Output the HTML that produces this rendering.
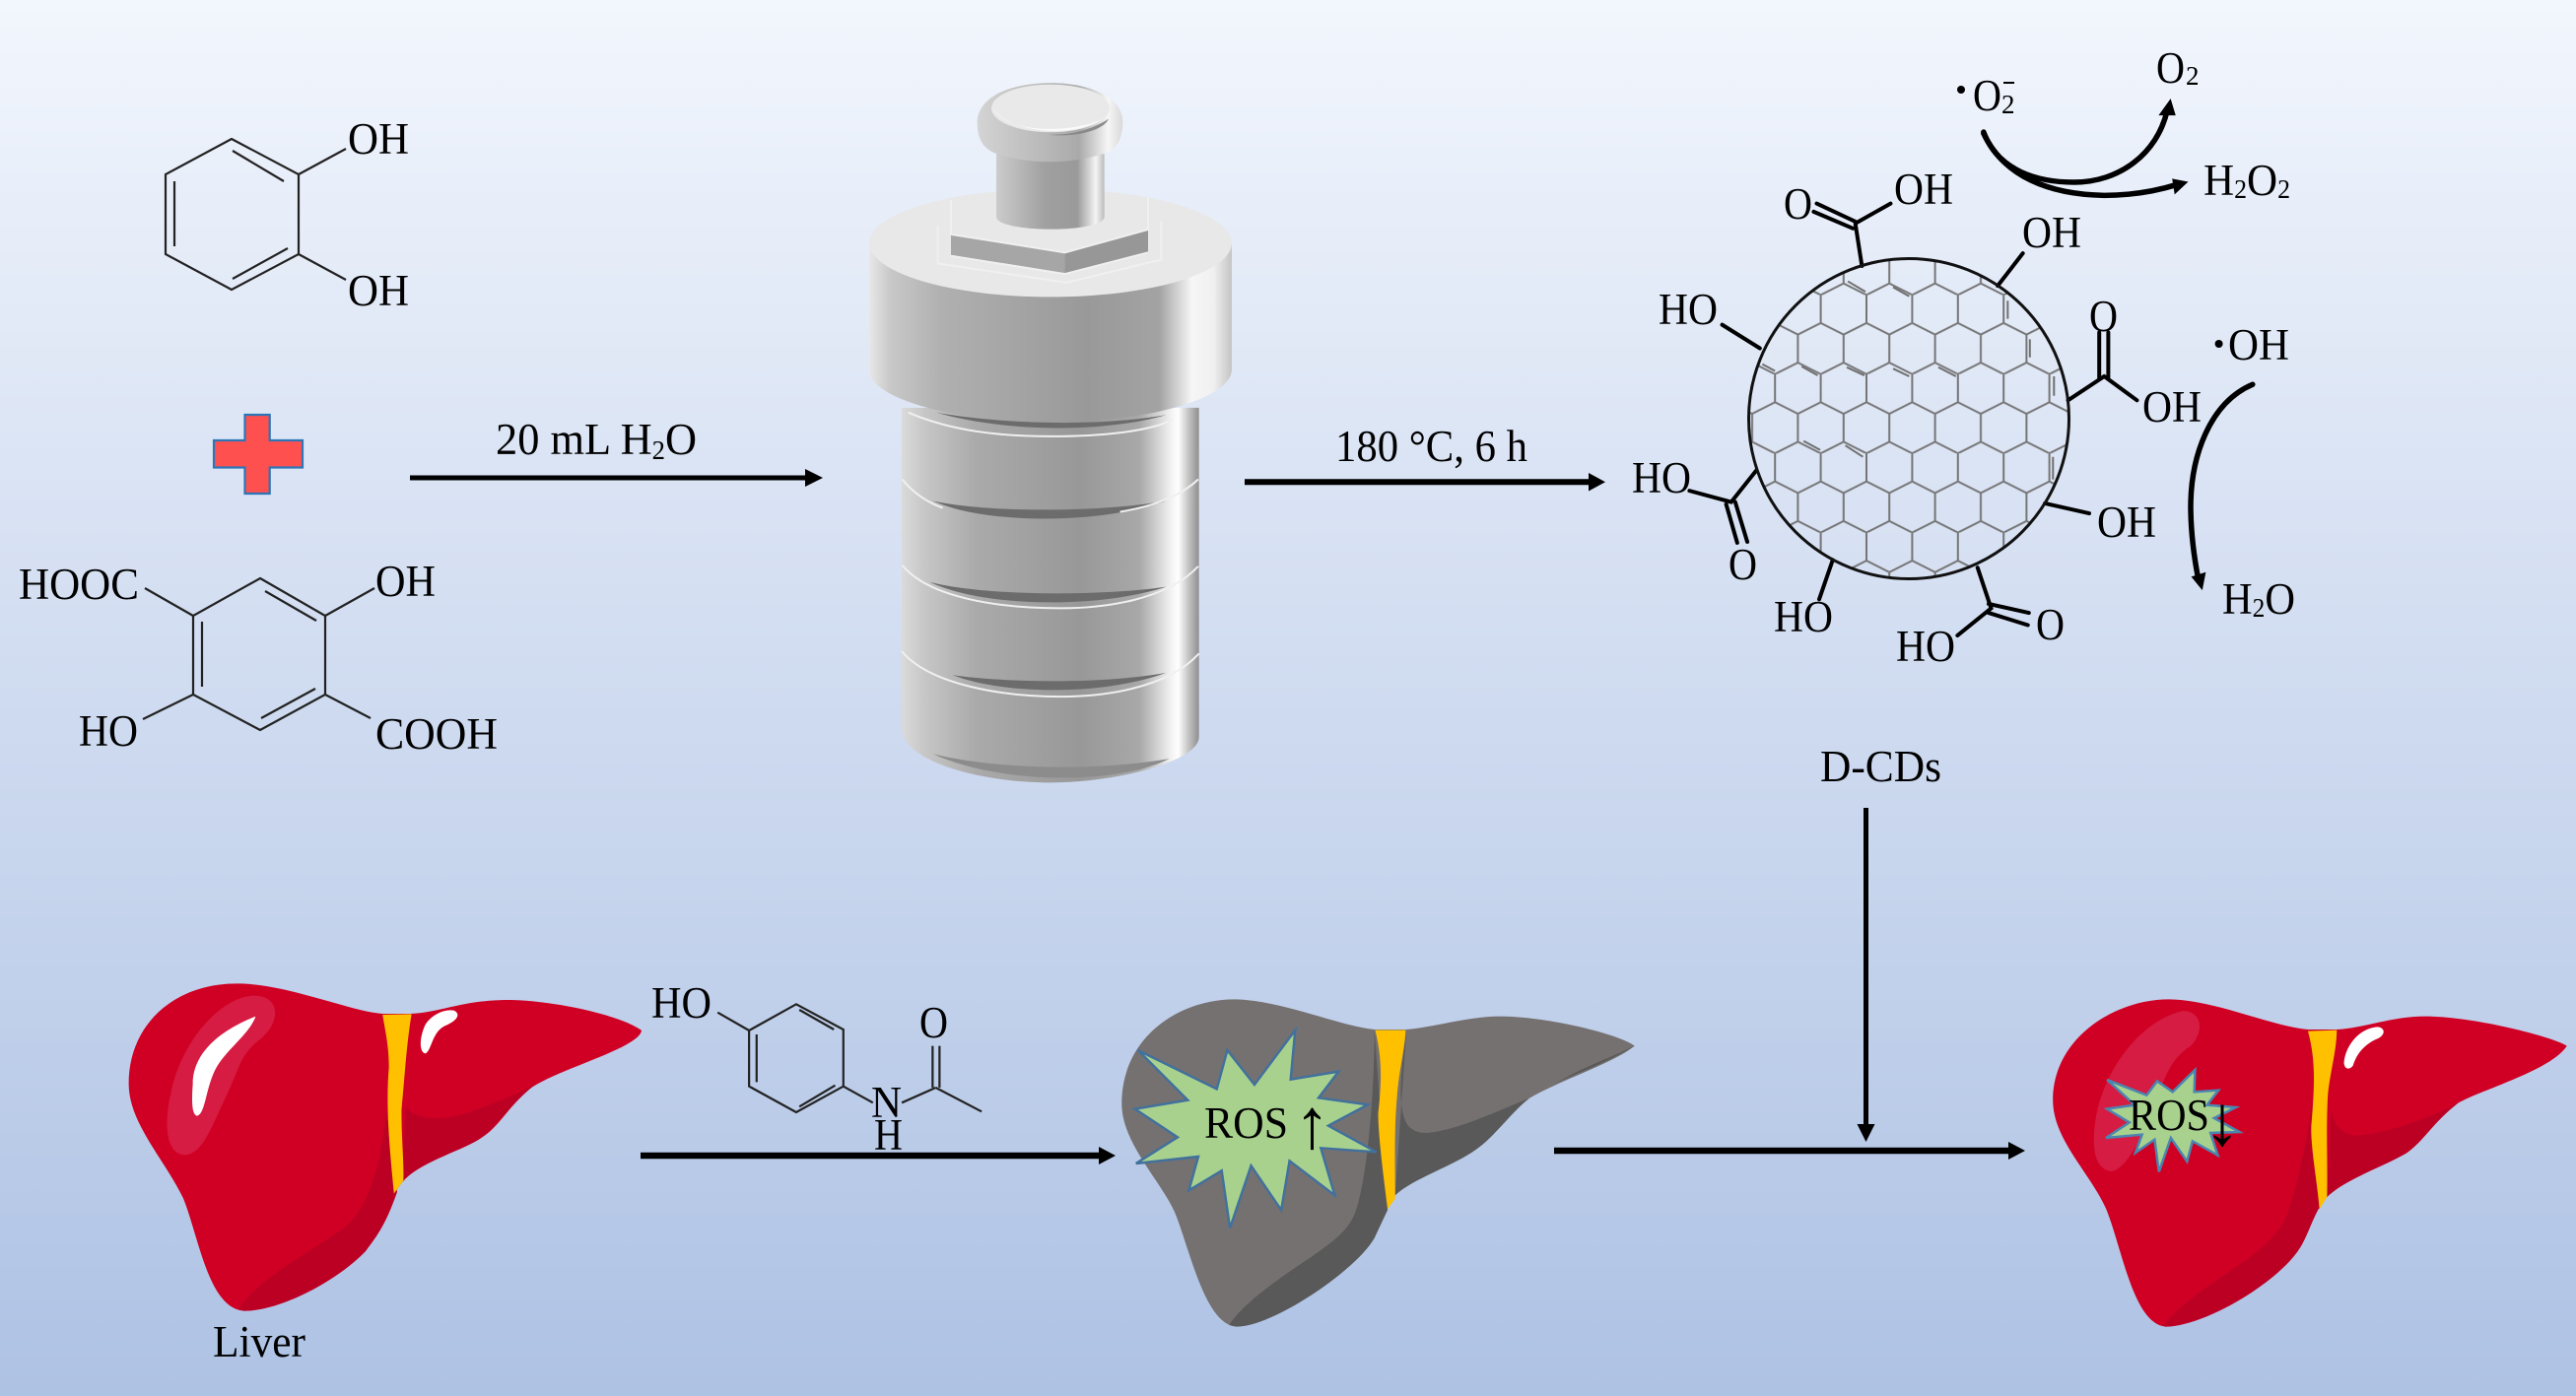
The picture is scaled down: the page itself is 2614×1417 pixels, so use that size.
<!DOCTYPE html>
<html><head><meta charset="utf-8"><style>
html,body{margin:0;padding:0;background:#c8d6ee}
svg{display:block}
text{font-family:"Liberation Serif","Noto Serif CJK SC",serif;fill:#000;font-size:45px}
.b{fill:none;stroke:#222;stroke-width:2.2;vector-effect:non-scaling-stroke}
.k{fill:none;stroke:#000;stroke-width:4;vector-effect:non-scaling-stroke;stroke-linecap:round}
.g{fill:none;stroke:#707070;stroke-width:2;vector-effect:non-scaling-stroke}
.c{fill:none;stroke:#000;stroke-width:5.5;vector-effect:non-scaling-stroke;stroke-linecap:round}
.w{fill:none;stroke:#f0f0f0;stroke-width:2;vector-effect:non-scaling-stroke}
.s{font-size:27px}
</style></head><body>
<svg width="2614" height="1417" viewBox="0 0 2614 1417" xmlns="http://www.w3.org/2000/svg">
<defs>
<linearGradient id="bg" x1="0" y1="0" x2="0" y2="1"><stop offset="0" stop-color="#f2f6fd"/><stop offset=".5" stop-color="#cfdbf0"/><stop offset="1" stop-color="#aec2e4"/></linearGradient>
<linearGradient id="cap" x1="0" y1="0" x2="1" y2="0"><stop offset="0" stop-color="#e8e8e8"/><stop offset=".06" stop-color="#c8c8c8"/><stop offset=".2" stop-color="#b0b0b0"/><stop offset=".6" stop-color="#999"/><stop offset=".8" stop-color="#a3a3a3"/><stop offset=".89" stop-color="#f6f6f6"/><stop offset=".95" stop-color="#f0f0f0"/><stop offset="1" stop-color="#c4c4c4"/></linearGradient>
<linearGradient id="body" x1="0" y1="0" x2="1" y2="0"><stop offset="0" stop-color="#dadada"/><stop offset=".08" stop-color="#c6c6c6"/><stop offset=".25" stop-color="#aaa"/><stop offset=".6" stop-color="#989898"/><stop offset=".8" stop-color="#a8a8a8"/><stop offset=".9" stop-color="#eee"/><stop offset=".93" stop-color="#fff"/><stop offset=".96" stop-color="#ccc"/><stop offset="1" stop-color="#8e8e8e"/></linearGradient>
<linearGradient id="stem" x1="0" y1="0" x2="1" y2="0"><stop offset="0" stop-color="#ccc"/><stop offset=".45" stop-color="#a0a0a0"/><stop offset=".75" stop-color="#9a9a9a"/><stop offset=".92" stop-color="#f4f4f4"/><stop offset="1" stop-color="#bbb"/></linearGradient>
<linearGradient id="knob" x1="0" y1="0" x2="1" y2="0"><stop offset="0" stop-color="#d4d4d4"/><stop offset=".4" stop-color="#bcbcbc"/><stop offset=".7" stop-color="#aaa"/><stop offset=".9" stop-color="#f6f6f6"/><stop offset="1" stop-color="#d8d8d8"/></linearGradient>
<pattern id="hex" patternUnits="userSpaceOnUse" x="1847.6" y="299.4" width="46.4" height="80.4">
<path d="M0,0V28.5L23.2,40.2L46.4,28.5V0M23.2,40.2V68.7L0,80.4M23.2,68.7L46.4,80.4" fill="none" stroke="#757575" stroke-width="2"/>
</pattern>
</defs>
<rect width="2614" height="1417" fill="url(#bg)"/>

<!-- catechol -->
<path class="b" d="M235,141L303,177V258L235,294L168,258V177Z"/>
<path class="b" d="M236,153L288,184M177,184V250M236,283L292,252M303,177L351,151M303,258L351,284"/>
<text x="353" y="156" textLength="62" lengthAdjust="spacingAndGlyphs">OH</text>
<text x="353" y="310" textLength="62" lengthAdjust="spacingAndGlyphs">OH</text>
<!-- plus -->
<path d="M248.500,421H273.700V447H307V474.500H273.700V501H248.500V474.500H217V447H248.500Z" fill="#ff5050" stroke="#2e75b6" stroke-width="2.200"/>
<!-- acid -->
<path class="b" d="M264,587L330,625V705L264,741L196,705V625Z"/>
<path class="b" d="M269,600L321,630M205,631V697M265,729L320,699M147,597L196,625M330,625L380,597M196,705L145,730M330,705L376,729"/>
<text x="19" y="608" textLength="122" lengthAdjust="spacingAndGlyphs">HOOC</text>
<text x="381" y="605" textLength="61" lengthAdjust="spacingAndGlyphs">OH</text>
<text x="80" y="757" textLength="60" lengthAdjust="spacingAndGlyphs">HO</text>
<text x="381" y="760" textLength="124" lengthAdjust="spacingAndGlyphs">COOH</text>

<!-- arrow 1 -->
<path d="M416,482.500H817V476L835,485L817,494V487.500H416Z"/>
<text x="503" y="461" textLength="204" lengthAdjust="spacingAndGlyphs">20 mL H<tspan class="s" dy="5">2</tspan><tspan dy="-5">O</tspan></text>

<!-- reactor -->
<g transform="translate(850,60) scale(.3333,.4847)">
<path d="M195,1400V730H1100V1420C1100,1470 850,1515 650,1515C430,1515 195,1470 195,1400Z" fill="url(#body)"/>
<path d="M290,1455C500,1490 800,1490 1010,1465C850,1520 500,1520 290,1455Z" fill="#8c8c8c"/>
<path d="M350,1290C500,1305 800,1310 1000,1285C800,1335 500,1330 350,1290Z" fill="#6c6c6c"/>
<path class="w" d="M195,1240C280,1310 500,1335 680,1335C800,1335 1000,1320 1100,1245"/>
<path d="M280,1095C450,1125 800,1125 1000,1105C800,1150 450,1150 280,1095Z" fill="#6c6c6c"/>
<path class="w" d="M197,1060C280,1130 500,1150 680,1150C800,1150 1000,1135 1098,1062"/>
<path d="M290,925C450,950 800,950 1000,925C800,975 450,975 290,925Z" fill="#6c6c6c"/>
<path class="w" d="M197,880C230,910 280,930 320,940M860,948C950,938 1040,918 1098,880"/>
<path d="M300,740C500,765 800,770 1000,745C800,785 500,780 300,740Z" fill="#6c6c6c"/>
<path class="w" d="M215,740C350,780 500,790 650,790C800,790 950,780 1020,755"/>
<path d="M95,385V650C95,710 350,760 650,760C950,760 1200,710 1200,650V385Z" fill="url(#cap)"/>
<ellipse cx="648" cy="385" rx="552" ry="113" fill="#e8e8e8"/>
<path d="M345,367L692,405L945,357V405L692,450L345,412Z" fill="#a6a6a6"/>
<path d="M692,405L945,357V405L692,450Z" fill="#979797"/>
<path d="M345,295V367L692,405L945,357V290M305,348V428L697,468L985,420V340M345,412L692,450L945,405" class="w"/>
<path d="M483,190V330C483,365 812,365 812,330V190Z" fill="url(#stem)"/>
<path d="M425,130C430,80 520,50 650,50C780,50 868,85 868,130C868,180 835,195 800,200C700,220 590,220 490,200C450,190 425,175 425,130Z" fill="url(#knob)"/>
<ellipse cx="648" cy="103" rx="180" ry="50" fill="#e9e9e9"/>
<path d="M470,100C520,160 760,170 830,110C800,150 520,170 470,100Z" fill="#fbfbfb"/>
<path d="M640,158C700,160 770,150 825,125C810,150 720,165 640,158Z" fill="#8a8a8a"/>
</g>

<!-- arrow 2 -->
<path d="M1263,486.300H1612V480L1629,489.300L1612,498.500V492.300H1263Z"/>
<text x="1355" y="468" textLength="195" lengthAdjust="spacingAndGlyphs">180 °C, 6 h</text>

<!-- CD -->
<circle cx="1937" cy="425" r="162" fill="url(#hex)"/>
<g transform="translate(1620,0) scale(.5102,.4591)">
<path class="g" d="M500,622L535,645M590,635L622,655M818,665V705M862,750V790M910,832V875M330,805L355,820M408,810L440,830M498,812L533,830M590,815L622,832M680,812L715,832M412,975L445,995M495,985L530,1010M908,1010V1060"/>
<path class="k" d="M528,588L515,495M515,490L438,450M510,505L432,468M518,492L585,450M798,632L848,560M938,885L1010,832M1000,835V735M1018,835V735M1010,832L1075,885M325,770L250,718M892,1113L980,1135M318,1040L268,1110L185,1085M258,1115L280,1200M276,1110L300,1198M470,1238L443,1325M758,1255L785,1345L718,1405M780,1335L860,1355M780,1355L858,1382"/>
<path class="c" d="M770,292C800,380 880,403 950,403C1040,403 1115,340 1135,245"/>
<path d="M1142,218L1118,255L1152,255Z"/>
<path class="c" d="M770,295C810,390 900,430 1010,432C1070,432 1120,420 1155,408"/>
<path d="M1177,402L1145,395L1150,430Z"/>
<path class="c" d="M1305,850C1220,890 1180,1010 1182,1130C1183,1190 1190,1240 1197,1280"/>
<path d="M1205,1305L1183,1275L1212,1265Z"/>
</g>
<circle cx="1937" cy="425" r="162.500" fill="none" stroke="#111" stroke-width="3"/>
<text x="1810" y="222" textLength="29" lengthAdjust="spacingAndGlyphs">O</text>
<text x="1922" y="207" textLength="60" lengthAdjust="spacingAndGlyphs">OH</text>
<text x="2052" y="251" textLength="60" lengthAdjust="spacingAndGlyphs">OH</text>
<text x="1683" y="329" textLength="60" lengthAdjust="spacingAndGlyphs">HO</text>
<text x="2120" y="336" textLength="29" lengthAdjust="spacingAndGlyphs">O</text>
<text x="2174" y="428" textLength="60" lengthAdjust="spacingAndGlyphs">OH</text>
<text x="1656" y="500" textLength="60" lengthAdjust="spacingAndGlyphs">HO</text>
<text x="1754" y="588" textLength="29" lengthAdjust="spacingAndGlyphs">O</text>
<text x="2128" y="545" textLength="60" lengthAdjust="spacingAndGlyphs">OH</text>
<text x="1800" y="641" textLength="60" lengthAdjust="spacingAndGlyphs">HO</text>
<text x="1924" y="671" textLength="60" lengthAdjust="spacingAndGlyphs">HO</text>
<text x="2066" y="649" textLength="29" lengthAdjust="spacingAndGlyphs">O</text>
<circle cx="1990" cy="91" r="4"/>
<text x="2002" y="112" textLength="29" lengthAdjust="spacingAndGlyphs">O</text>
<text x="2031" y="115" class="s">2</text>
<rect x="2033" y="83" width="11" height="2"/>
<text x="2188" y="84" textLength="29" lengthAdjust="spacingAndGlyphs">O</text>
<text x="2218" y="86" class="s">2</text>
<text x="2236" y="198" textLength="88" lengthAdjust="spacingAndGlyphs">H<tspan class="s" dy="3">2</tspan><tspan dy="-3">O</tspan><tspan class="s" dy="3">2</tspan></text>
<circle cx="2251.600" cy="349" r="4"/>
<text x="2261" y="365" textLength="62" lengthAdjust="spacingAndGlyphs">OH</text>
<text x="2255" y="623" textLength="74" lengthAdjust="spacingAndGlyphs">H<tspan class="s" dy="3">2</tspan><tspan dy="-3">O</tspan></text>

<!-- D-CDs -->
<text x="1847" y="793" textLength="123" lengthAdjust="spacingAndGlyphs">D-CDs</text>
<path d="M1891,820H1896V1141H1902.500L1893.500,1159L1884.500,1141H1891Z"/>

<!-- liver 1 -->
<g transform="translate(100,960) scale(.6378,.3333)">
<path d="M452,207C400,200 300,115 220,115C120,115 48,240 48,420C48,540 105,650 135,770C160,890 175,1105 232,1112C310,1112 425,930 440,880L470,755L483,720C510,660 570,630 605,590C640,550 650,490 690,430C740,370 860,310 864,258C830,210 720,165 650,165C580,165 540,205 495,207Z" fill="#d00024"/>
<path d="M222,1108C250,1020 330,940 390,860C430,800 450,660 458,500L475,750C455,860 440,890 425,930C380,1020 290,1112 232,1112Z" fill="#bc0024"/>
<path d="M488,490C510,540 560,530 600,500C640,470 680,440 700,415C660,470 640,540 605,590C570,630 510,660 483,720Z" fill="#bc0024"/>
<path d="M245,152C290,150 290,230 260,280C225,330 225,370 205,450C180,550 165,640 135,637C105,630 105,530 115,450C130,300 190,160 245,152Z" fill="#d61c42"/>
<path d="M250,215C190,260 150,330 150,420C148,470 148,515 157,518C170,510 170,440 185,380C200,320 240,270 250,215Z" fill="#fff"/>
<path d="M565,197C575,205 575,225 550,245C530,265 530,320 520,328C510,325 510,280 520,240C530,210 550,192 565,197Z" fill="#fff"/>
<path d="M452,210L498,208C490,300 488,380 482,500C482,600 486,650 485,715L470,755C465,650 456,500 462,370C462,300 455,250 452,210Z" fill="#ffc000"/>
</g>
<text x="216" y="1377" textLength="94" lengthAdjust="spacingAndGlyphs">Liver</text>

<!-- paracetamol -->
<g transform="translate(100,960) scale(.6378,.3333)">
<path class="b" d="M1110,178L1185,255V428L1110,507L1035,428V258Z"/>
<path class="b" d="M1115,195L1170,255M1047,270V415M1115,490L1172,425M985,203L1035,258M1185,428L1232,478M1278,478L1332,432M1327,432V305M1338,432V305M1332,432L1405,505"/>
</g>
<text x="661" y="1033" textLength="61" lengthAdjust="spacingAndGlyphs">HO</text>
<text x="884" y="1134" textLength="31" lengthAdjust="spacingAndGlyphs">N</text>
<text x="887" y="1167" textLength="29" lengthAdjust="spacingAndGlyphs">H</text>
<text x="933" y="1053" textLength="29" lengthAdjust="spacingAndGlyphs">O</text>
<path d="M650,1169.700H1115V1164L1132,1173L1115,1182V1176.300H650Z"/>

<!-- liver 2 -->
<g transform="translate(1100,980) scale(.3827,.3333)">
<path d="M770,195C680,185 520,105 400,103C250,103 100,220 100,420C100,540 200,650 240,750C280,860 320,1095 405,1100C500,1100 720,930 770,830L803,745L825,700C870,650 980,610 1040,560C1090,520 1130,450 1180,405C1260,350 1400,300 1460,245C1420,210 1230,155 1100,155C1020,155 920,190 855,195Z" fill="#767171"/>
<path d="M385,1095C420,1030 520,950 600,890C660,840 700,810 720,750C750,650 770,400 770,195L805,745L770,830C720,930 500,1100 405,1100Z" fill="#595959"/>
<path d="M855,195C845,280 840,340 840,400C845,480 860,510 910,510C1000,500 1120,430 1180,405C1130,450 1090,520 1040,560C980,610 870,650 825,700Z" fill="#595959"/>
<path d="M1460,245C1380,300 1300,330 1250,360C1320,310 1400,280 1450,250Z" fill="#595959"/>
<path d="M772,197L853,197C850,260 835,320 830,400C822,500 825,600 825,710L805,742C795,650 780,520 780,450C790,350 790,280 772,197Z" fill="#ffc000"/>
<path d="M143,258L352,376L380,258L452,363L560,197L548,347L675,323L622,403L752,424L648,488L775,568L628,556L665,700L545,595L523,745L443,610L387,800L365,625L278,685L303,582L138,603L248,523L135,437L275,410Z" fill="#a9d18e" stroke="#41719c" stroke-width="2.500" vector-effect="non-scaling-stroke"/>
</g>
<text x="1222" y="1155" textLength="85" lengthAdjust="spacingAndGlyphs">ROS</text>
<text x="1331.500" y="1165" text-anchor="middle" style="font-size:72px">↑</text>
<path d="M1577,1164.700H2038V1159L2055,1168L2038,1177V1171.300H1577Z"/>

<!-- liver 3 -->
<g transform="translate(2040,980) scale(.366,.3333)">
<path d="M825,195C720,185 570,105 440,103C290,103 118,220 118,410C118,530 220,630 265,740C310,860 340,1090 430,1100C530,1100 720,980 790,880C820,840 830,790 855,740L878,705C930,650 1040,610 1100,570C1150,530 1170,480 1240,420C1300,380 1500,320 1543,245C1500,215 1280,155 1150,155C1060,155 980,190 905,195Z" fill="#d00024"/>
<path d="M425,1095C470,1030 570,960 650,900C710,850 750,810 770,750C800,650 830,500 835,400L857,742L855,740C830,790 820,840 790,880C720,980 530,1100 430,1100Z" fill="#bc0024"/>
<path d="M890,430C895,490 920,515 960,518C1050,510 1170,460 1240,420C1170,480 1150,530 1100,570C1040,610 930,650 878,705Z" fill="#bc0024"/>
<path d="M480,138C530,140 540,200 500,245C450,280 430,330 410,400C380,500 320,625 280,627C235,620 225,560 235,480C250,340 350,170 480,138Z" fill="#d61c42"/>
<path d="M1018,187C1040,190 1040,210 1020,222C980,240 960,270 950,305C940,320 925,315 925,295C930,240 970,190 1018,187Z" fill="#fff"/>
<path d="M825,200L905,197C905,260 885,330 880,400C875,500 880,600 878,705L857,742C850,650 830,540 835,480C845,350 845,280 825,200Z" fill="#ffc000"/>
<path d="M268,348L378,395L407,352L450,385L512,318L510,385L577,380L545,425L625,432L565,465L635,507L555,510L575,578L505,535L490,597L445,525L412,628L400,530L347,570L365,515L265,525L330,478L268,437L345,425Z" fill="#a9d18e" stroke="#4a86b0" stroke-width="2.500" vector-effect="non-scaling-stroke"/>
</g>
<text x="2160" y="1147" textLength="82" lengthAdjust="spacingAndGlyphs">ROS</text>
<text x="2255" y="1162" text-anchor="middle" style="font-size:72px">↓</text>
</svg>
</body></html>
